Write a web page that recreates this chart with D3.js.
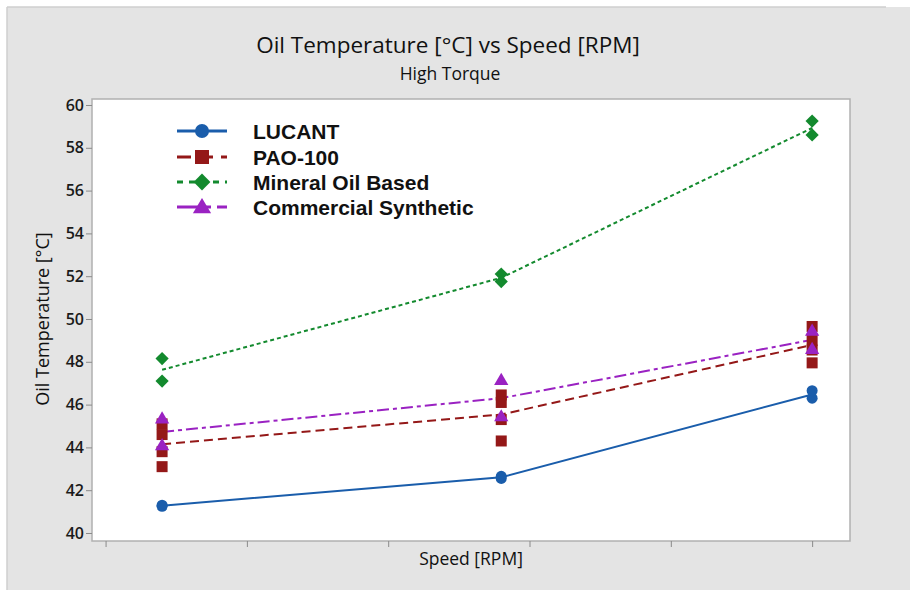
<!DOCTYPE html>
<html>
<head>
<meta charset="utf-8">
<script src="https://cdn.jsdelivr.net/npm/d3@7"></script>
<style>
  html, body { margin: 0; padding: 0; background: #ffffff; }
  svg { display: block; }
</style>
</head>
<body>
<svg id="chart" width="910" height="590"></svg>
<script>
// ---------------- DATA ----------------
const titleText = "Oil Temperature [°C] vs Speed [RPM]";
const subtitleText = "High Torque";
const xAxisTitle = "Speed [RPM]";
const yAxisTitle = "Oil Temperature [°C]";

const speeds = [700, 1900, 3000];            // x positions of the three test speeds
const xTickValues = [500, 1000, 1500, 2000, 2500, 3000];
const yTickValues = [40, 42, 44, 46, 48, 50, 52, 54, 56, 58, 60];

const seriesNames = ["LUCANT", "PAO-100", "Mineral Oil Based", "Commercial Synthetic"];
// replicate readings at each speed
const lucantValues = [[41.25, 41.3], [42.55, 42.65], [46.3, 46.65]];
const paoValues = [[45.1, 44.6, 43.8, 43.1], [46.45, 46.1, 45.3, 44.3], [49.65, 49.0, 48.55, 47.95]];
const mineralValues = [[48.15, 47.1], [52.1, 51.75], [59.25, 58.6]];
const commercialValues = [[45.35, 44.1], [47.15, 45.45], [49.45, 48.6]];

// ---------------- STYLE ----------------
const styles = [
  { color: "#1a5dab", dash: null, marker: "circle" },
  { color: "#941818", dash: "9,5", marker: "square" },
  { color: "#138a2e", dash: "4,3", marker: "diamond" },
  { color: "#9a22c2", dash: "12,4,4,4", marker: "triangle" }
];
const seriesData = [lucantValues, paoValues, mineralValues, commercialValues];

const W = 910, H = 590;
const plot = { left: 92, right: 850, top: 99, bottom: 541 };
const uiFont = "'Open Sans', 'Noto Sans', sans-serif";

const svg = d3.select("#chart");

// background panel
svg.append("rect").attr("x", 7).attr("y", 7).attr("width", W - 7).attr("height", H - 7)
  .attr("fill", "#e4e4e4");
svg.append("line").attr("x1", 7).attr("x2", 7).attr("y1", 7).attr("y2", H).attr("stroke", "#cfcfcf").attr("stroke-width", 1.5);
svg.append("line").attr("x1", 7).attr("x2", 886).attr("y1", 7).attr("y2", 7).attr("stroke", "#cfcfcf").attr("stroke-width", 1.5);

// scales
const x = d3.scaleLinear().domain([452, 3134]).range([plot.left, plot.right]);
const y = d3.scaleLinear().domain([39.626, 60.28]).range([plot.bottom, plot.top]);

// plot area
svg.append("rect")
  .attr("x", plot.left).attr("y", plot.top)
  .attr("width", plot.right - plot.left).attr("height", plot.bottom - plot.top)
  .attr("fill", "#ffffff").attr("stroke", "#b0b0b0").attr("stroke-width", 1.5);

// y axis
const yAxis = svg.append("g")
  .attr("transform", `translate(${plot.left},0)`)
  .call(d3.axisLeft(y).tickValues(yTickValues).tickSize(6).tickPadding(2).tickFormat(d3.format("d")));
yAxis.select(".domain").remove();
yAxis.selectAll(".tick line").attr("stroke", "#8a8a8a");
yAxis.selectAll(".tick text")
  .attr("font-family", uiFont).attr("font-weight", 600)
  .attr("font-size", 16).attr("fill", "#1a1a1a");

// x axis (ticks only, no labels)
const xAxis = svg.append("g")
  .attr("transform", `translate(0,${plot.bottom})`)
  .call(d3.axisBottom(x).tickValues(xTickValues).tickSize(6).tickFormat(""));
xAxis.select(".domain").remove();
xAxis.selectAll(".tick line").attr("stroke", "#8a8a8a");

// titles
svg.append("text").attr("x", 448).attr("y", 53).attr("text-anchor", "middle")
  .attr("font-family", uiFont).attr("font-size", 22.5).attr("font-weight", 500)
  .attr("fill", "#111").text(titleText);
svg.append("text").attr("x", 450).attr("y", 80).attr("text-anchor", "middle")
  .attr("font-family", uiFont).attr("font-size", 17.5).attr("font-weight", 500)
  .attr("fill", "#111").text(subtitleText);
svg.append("text").attr("x", 471).attr("y", 565).attr("text-anchor", "middle")
  .attr("font-family", uiFont).attr("font-size", 17.5).attr("font-weight", 500)
  .attr("fill", "#111").text(xAxisTitle);
svg.append("text").attr("transform", "translate(49,319) rotate(-90)").attr("text-anchor", "middle")
  .attr("font-family", uiFont).attr("font-size", 18).attr("font-weight", 500)
  .attr("fill", "#111").text(yAxisTitle);

// marker helper
function drawMarker(g, type, cx, cy, s, color) {
  if (type === "circle") {
    g.append("circle").attr("cx", cx).attr("cy", cy).attr("r", s / 2).attr("fill", color);
  } else if (type === "square") {
    g.append("rect").attr("x", cx - s / 2).attr("y", cy - s / 2).attr("width", s).attr("height", s).attr("fill", color);
  } else if (type === "diamond") {
    const h = s * 0.6;
    g.append("path").attr("d", `M${cx},${cy - h}L${cx + h},${cy}L${cx},${cy + h}L${cx - h},${cy}Z`).attr("fill", color);
  } else if (type === "triangle") {
    const w = s * 0.65, top = s * 0.65, bot = s * 0.45;
    g.append("path").attr("d", `M${cx},${cy - top}L${cx + w},${cy + bot}L${cx - w},${cy + bot}Z`).attr("fill", color);
  }
}

const plotG = svg.append("g");
const line = d3.line().x(d => x(d[0])).y(d => y(d[1]));

// lines through the means
seriesData.forEach((vals, i) => {
  const pts = speeds.map((s, j) => [s, d3.mean(vals[j])]);
  plotG.append("path").attr("d", line(pts))
    .attr("fill", "none").attr("stroke", styles[i].color).attr("stroke-width", 2)
    .attr("stroke-dasharray", styles[i].dash);
});
// replicate markers
seriesData.forEach((vals, i) => {
  const g = plotG.append("g");
  speeds.forEach((s, j) => {
    vals[j].forEach(v => drawMarker(g, styles[i].marker, x(s), y(v), 11, styles[i].color));
  });
});

// legend
const legend = svg.append("g");
const legendRowY = [131, 157, 182, 207];
seriesNames.forEach((name, i) => {
  const ly = legendRowY[i];
  legend.append("line").attr("x1", 177).attr("x2", 227).attr("y1", ly).attr("y2", ly)
    .attr("stroke", styles[i].color).attr("stroke-width", 3)
    .attr("stroke-dasharray", i === 1 ? "14,8" : i === 2 ? "6,6" : i === 3 ? "22,6,6,6" : null);
  drawMarker(legend, styles[i].marker, 202, ly, 14, styles[i].color);
  legend.append("text").attr("x", 253).attr("y", ly + 7.5)
    .attr("font-family", "'Liberation Sans', Arial, sans-serif").attr("font-weight", "bold")
    .attr("font-size", 21).attr("fill", "#111").text(name);
});
</script>
</body>
</html>
